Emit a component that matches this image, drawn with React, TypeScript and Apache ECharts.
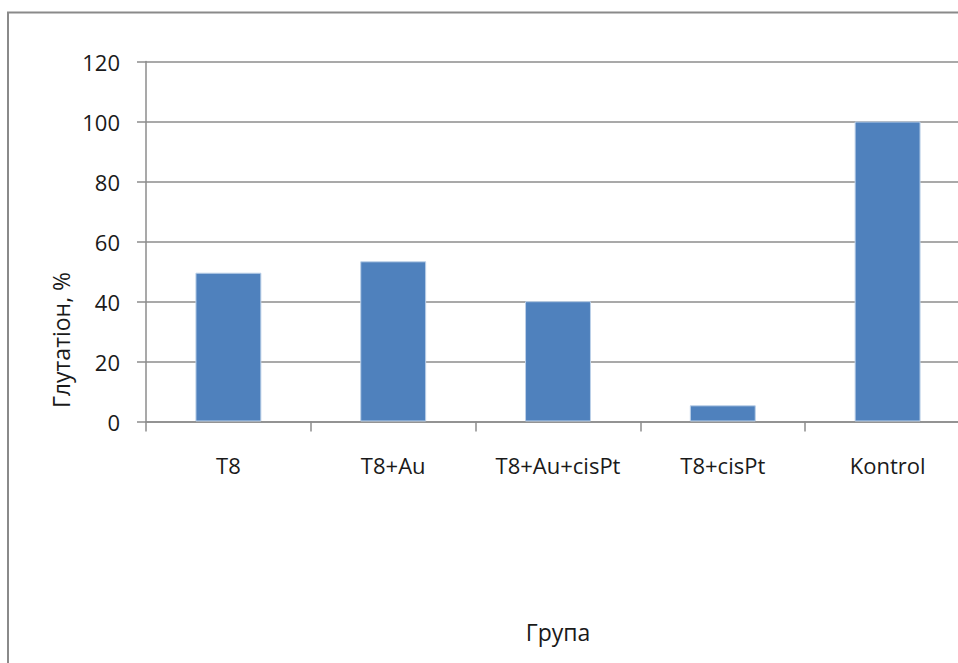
import React, { useEffect, useRef } from "react";
import * as echarts from "echarts";

const categories = ["T8", "T8+Au", "T8+Au+cisPt", "T8+cisPt", "Kontrol"];
const values = [49.6, 53.4, 40.1, 5.4, 100];
const yTicks = { min: 0, max: 120, interval: 20 };
const xTitle = "Група";
const yTitle = "Глутатіон, %";

const FONT = "'Open Sans', 'Noto Sans', sans-serif";

export default function App() {
  const ref = useRef<HTMLDivElement>(null);
  useEffect(() => {
    if (!ref.current) return;
    const chart = echarts.init(ref.current, null, { renderer: "svg" });
    chart.setOption({
      animation: false,
      backgroundColor: "#ffffff",
      textStyle: { fontFamily: FONT },
      grid: {
        left: 146,
        top: 61.5,
        right: -12,
        bottom: 241.5,
        containLabel: false,
        outerBoundsMode: "none",
      },
      xAxis: {
        type: "category",
        data: categories,
        name: xTitle,
        nameLocation: "middle",
        nameGap: 199,
        nameTextStyle: { fontSize: 23, color: "#1a1a1a", fontFamily: FONT },
        axisLine: { lineStyle: { color: "#8c8c8c", width: 1.5 } },
        axisTick: { show: true, interval: 0, length: 10, lineStyle: { color: "#8c8c8c", width: 1.5 } },
        axisLabel: { interval: 0, fontSize: 22, color: "#1a1a1a", margin: 32, fontFamily: FONT },
      },
      yAxis: {
        type: "value",
        min: yTicks.min,
        max: yTicks.max,
        interval: yTicks.interval,
        axisLine: { show: true, lineStyle: { color: "#8c8c8c", width: 1.5 } },
        axisTick: { show: true, length: 9, lineStyle: { color: "#8c8c8c", width: 1.5 } },
        splitLine: { show: true, lineStyle: { color: "#8c8c8c", width: 1.5 } },
        axisLabel: { fontSize: 22, color: "#1a1a1a", margin: 26, fontFamily: FONT },
      },
      series: [
        {
          type: "bar",
          data: values,
          barWidth: "40%",
          itemStyle: { color: "#4f81bd", borderColor: "#bcd0e8", borderWidth: 1 },
        },
      ],
      graphic: [
        {
          type: "rect",
          shape: { x: 8, y: 12.5, width: 1200, height: 1200 },
          style: { fill: "none", stroke: "#8a8a8a", lineWidth: 2 },
          silent: true,
        },
        {
          type: "text",
          x: 61,
          y: 340,
          rotation: Math.PI / 2,
          style: {
            text: yTitle,
            fontSize: 23,
            fontFamily: FONT,
            fill: "#1a1a1a",
            align: "center",
            verticalAlign: "middle",
          },
        },
      ],
    });
    return () => chart.dispose();
  }, []);
  return (
    <div
      ref={ref}
      style={{ position: "fixed", left: 0, top: 0, width: 958, height: 663 }}
    />
  );
}
